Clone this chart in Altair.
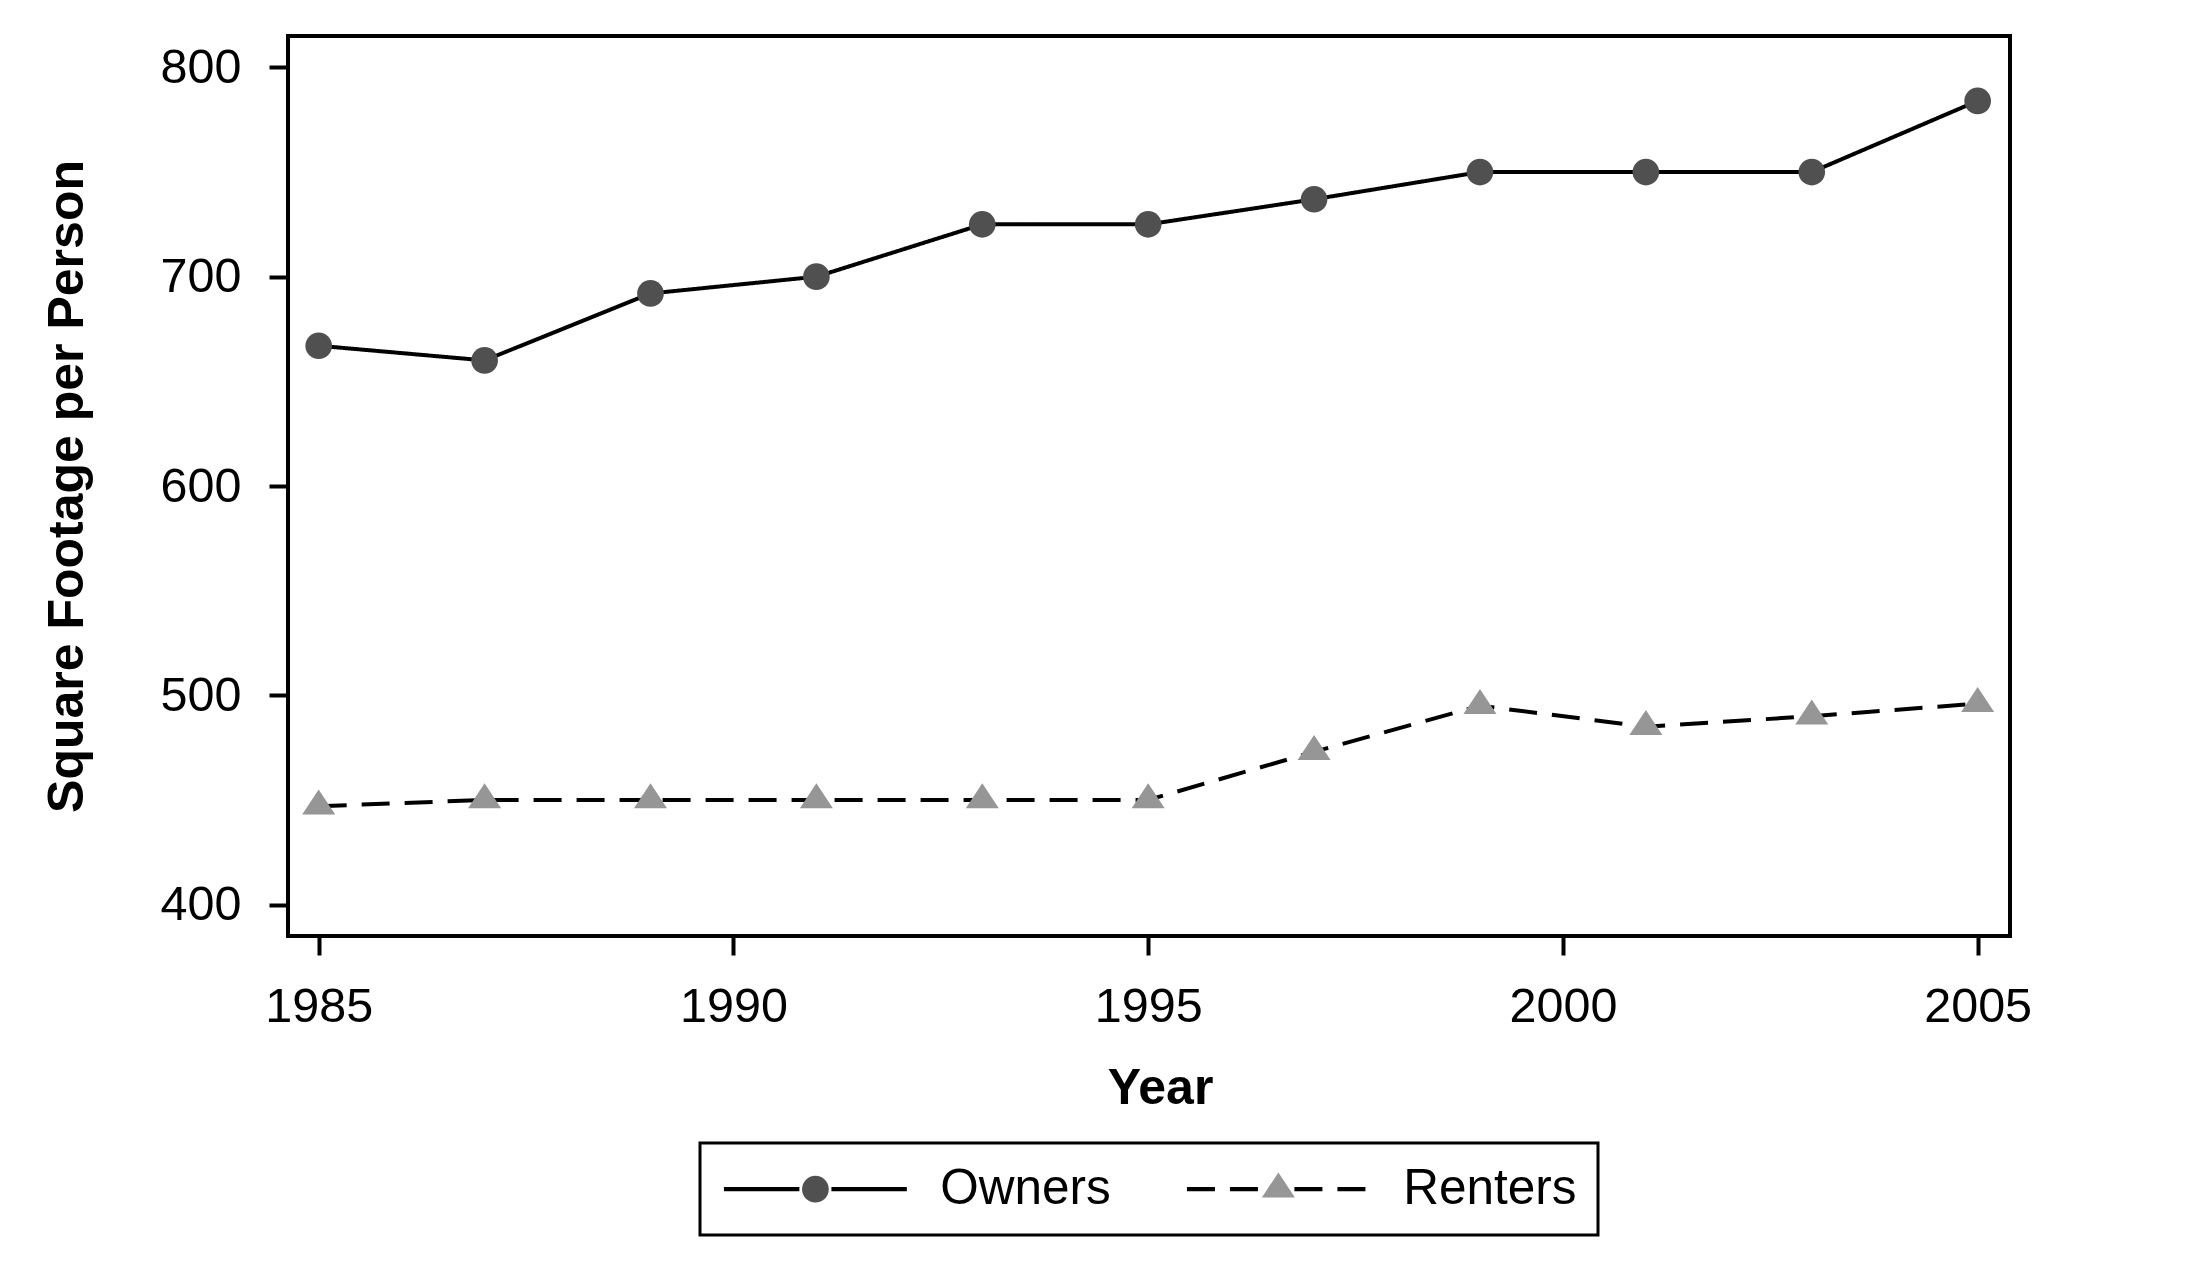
import altair as alt
import pandas as pd

years = [1985, 1987, 1989, 1991, 1993, 1995, 1997, 1999, 2001, 2003, 2005]
owners = [667, 660, 692, 700, 725, 725, 737, 750, 750, 750, 784]
renters = [447, 450, 450, 450, 450, 450, 473, 495, 485, 490, 496]
x_ticks = [1985, 1990, 1995, 2000, 2005]
y_ticks = [400, 500, 600, 700, 800]

rows = []
for yr, v in zip(years, owners):
    rows.append({"year": yr, "value": v, "series": "Owners", "series_m": "Owners"})
for yr, v in zip(years, renters):
    rows.append({"year": yr, "value": v, "series": "Renters", "series_m": "Renters"})
df = pd.DataFrame(rows)

FONT = "Liberation Sans"
SYM = 713  # symbol area -> unit = sqrt(SYM)/2 px

circle_path = "M-6.85,0M6.85,0M1,0A1,1,0,1,1,-1,0A1,1,0,1,1,1,0Z"
tri_path = "M-6.85,0M6.85,0M0,-1.25L1.236,0.62L-1.236,0.62Z"
line_path = "M-6.85,0H-1.2M1.2,0H6.85"

x_enc = alt.X(
    "year:Q",
    scale=alt.Scale(domain=[1984.63, 2005.39], nice=False, zero=False),
    axis=alt.Axis(
        values=x_ticks, format="d", title="Year",
        titleFont=FONT, titleFontSize=50, titleFontWeight="bold", titleColor="black",
        titlePadding=33, titleX=872,
        labelFont=FONT, labelFontSize=48.5, labelColor="black", labelPadding=28,
        labelFlush=False,
        tickSize=19, tickWidth=4, tickColor="black", domain=False, grid=False,
    ),
)
y_enc = alt.Y(
    "value:Q",
    scale=alt.Scale(domain=[385, 815], nice=False, zero=False),
    axis=alt.Axis(
        values=y_ticks, title="Square Footage per Person",
        titleFont=FONT, titleFontSize=50, titleFontWeight="bold", titleColor="black",
        titlePadding=68,
        labelFont=FONT, labelFontSize=48.5, labelColor="black", labelPadding=28,
        tickSize=19, tickWidth=4, tickColor="black", domain=False, grid=False,
    ),
)

common_legend = dict(
    title=None, orient="none", legendX=412, legendY=1107, direction="horizontal",
    symbolSize=SYM, symbolOffset=69.65,
    labelFont=FONT, labelFontSize=49.5, labelColor="black",
    labelOffset=100, labelLimit=0, columnPadding=67, padding=21,
    symbolOpacity=1, symbolStrokeWidth=4.3,
)

line_legend = alt.Legend(
    symbolType=line_path, symbolStrokeColor="black", symbolFillColor="transparent",
    strokeColor="black", **common_legend,
)
marker_legend = alt.Legend(
    symbolStrokeColor="transparent", labelOpacity=0, **common_legend,
)

lines = alt.Chart(df).mark_line(color="black", strokeWidth=4).encode(
    x=x_enc,
    y=y_enc,
    strokeDash=alt.StrokeDash(
        "series:N",
        scale=alt.Scale(range=[[1, 0], [28, 15]]),
        legend=line_legend,
    ),
)

points = alt.Chart(df).mark_point(filled=True, size=SYM, opacity=1, strokeWidth=0).encode(
    x=x_enc,
    y=y_enc,
    shape=alt.Shape(
        "series_m:N",
        scale=alt.Scale(range=[circle_path, tri_path]),
        legend=marker_legend,
    ),
    fill=alt.Fill(
        "series_m:N",
        scale=alt.Scale(range=["#505050", "#969696"]),
        legend=marker_legend,
    ),
)

chart = (
    alt.layer(lines, points)
    .properties(
        width=1722, height=900,
        background="white",
        autosize=alt.AutoSizeParams(type="none"),
        padding={"left": 280, "top": 28, "right": 170, "bottom": 330},
    )
    .configure_view(stroke="black", strokeWidth=4)
    .configure_legend(strokeWidth=3)
)

chart.save("out.html", embed_options={"renderer": "svg", "actions": False})
